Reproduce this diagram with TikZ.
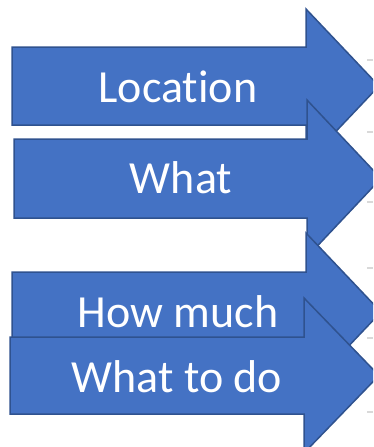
\documentclass[tikz,border=0pt]{standalone}
\usepackage{fontspec}
\setmainfont{Carlito}[RawFeature=-liga]
\definecolor{officeblue}{HTML}{4472C4}
\definecolor{officeline}{HTML}{2F528F}
\begin{document}
\begin{tikzpicture}[
        x = 1pt, y = -1pt,
        blockarrow/.style = {
            draw = officeline, line width = 1.5pt,
            fill = officeblue,
            line join = miter,
        },
        label/.style = {
            anchor = base,
            text = white,
            font = \fontsize{46}{55}\selectfont,
            inner sep = 0pt,
        },
        tick/.style = {
            draw = black!15, line width = 1.2pt,
        }
    ]
    \useasboundingbox (0,0) rectangle (373,447);
    \clip (0,0) rectangle (373,447);

    % faint marks on the right
    \foreach \yy in {60,132,202,268,338,412}
        \draw[tick] (367,\yy) -- (373,\yy);

    \draw[blockarrow] (12,47) -- (306,47) -- (306,9) -- (379,86)
        -- (306,163) -- (306,125) -- (12,125) -- cycle;
    \node[label] (loc) at (178,102) {Location};

    \draw[blockarrow] (14,139) -- (307,139) -- (307,100) -- (381,178.5)
        -- (307,257) -- (307,218) -- (14,218) -- cycle;
    \node[label] (what) at (181,193) {What};

    \draw[blockarrow] (12,272) -- (306,272) -- (306,233) -- (381,312)
        -- (306,391) -- (306,352) -- (12,352) -- cycle;
    \node[label] (howmuch) at (178,327) {How much};

    \draw[blockarrow] (10,337) -- (304,337) -- (304,298) -- (379,375.5)
        -- (304,453) -- (304,414) -- (10,414) -- cycle;
    \node[label] (todo) at (177,392) {What to do};
\end{tikzpicture}
\end{document}
